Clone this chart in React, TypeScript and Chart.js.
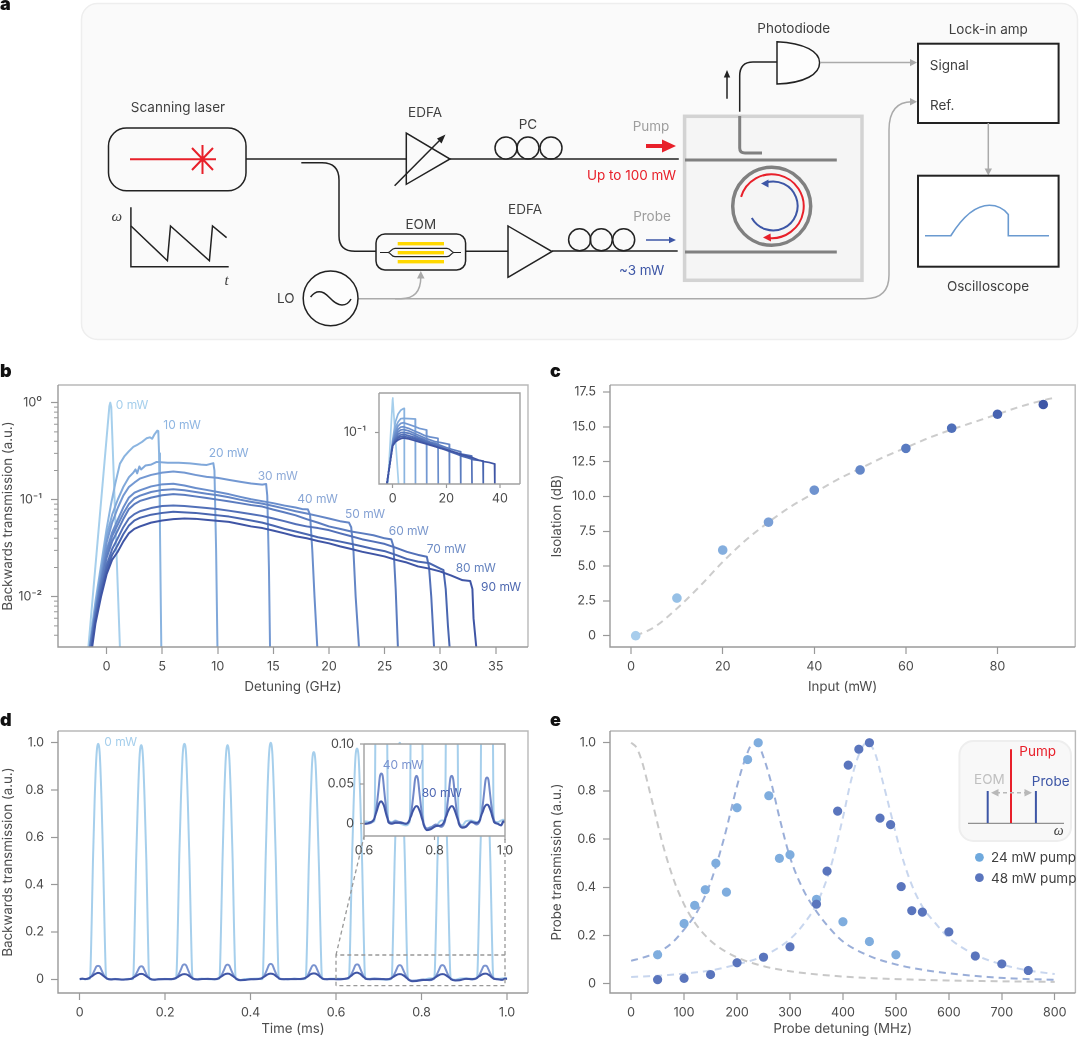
import React, { useEffect, useRef } from "react";
import { Chart, registerables } from "chart.js";

Chart.register(...registerables);

const FONT = "Inter, 'Noto Sans', sans-serif";
const TEXT = "#4a4a4a";

// ---- panel b ----
const bColors = ["#a6cfec", "#8ab4e0", "#80a8da", "#7398d2", "#6a8ecc", "#6486c6", "#5b7cbf", "#5270b8", "#4966b0", "#3f55a5"];
const bLabels = ["0 mW", "10 mW", "20 mW", "30 mW", "40 mW", "50 mW", "60 mW", "70 mW", "80 mW", "90 mW"];
const b0 = [[-1.64, 0.003], [0.25, 0.92], [0.33, 1], [0.42, 0.9], [1.2, 0.003]];
const b10 = [[-1.55, 0.003], [-1, 0.009], [-0.5, 0.021], [0, 0.05], [0.4, 0.09], [0.8, 0.15], [1.2, 0.235], [1.6, 0.28], [2, 0.315], [2.4, 0.35], [2.8, 0.37], [3.2, 0.395], [3.6, 0.43], [3.9, 0.44], [4.1, 0.425], [4.3, 0.47], [4.56, 0.515], [4.65, 0.51], [4.72, 0.3], [4.8, 0.05], [4.92, 0.003]];
const b20 = [[-1.5, 0.003], [-1, 0.008], [-0.5, 0.019], [0, 0.042], [0.5, 0.07], [1, 0.1], [1.5, 0.135], [2, 0.17], [2.4, 0.19], [2.6, 0.205], [2.75, 0.187], [2.95, 0.22], [3.1, 0.205], [3.5, 0.225], [4, 0.23], [4.5, 0.245], [5.5, 0.24], [6.5, 0.24], [7.5, 0.237], [8.5, 0.23], [9, 0.228], [9.6, 0.238], [9.7, 0.2], [9.85, 0.03], [9.97, 0.003]];
const b30 = [[-1.5, 0.003], [-1, 0.0075], [-0.5, 0.017], [0, 0.036], [0.5, 0.058], [1, 0.082], [1.5, 0.11], [2, 0.135], [2.5, 0.15], [3, 0.165], [4, 0.18], [5, 0.19], [6, 0.195], [7, 0.19], [8, 0.18], [9, 0.172], [10, 0.168], [11, 0.16], [12, 0.153], [13, 0.147], [14, 0.143], [14.35, 0.145], [14.45, 0.11], [14.6, 0.02], [14.7, 0.003]];
const b40 = [[-1.5, 0.003], [-1, 0.0072], [-0.5, 0.015], [0, 0.03], [0.5, 0.046], [1, 0.062], [1.5, 0.083], [2, 0.105], [2.5, 0.118], [3, 0.125], [4, 0.137], [5, 0.144], [6, 0.146], [7, 0.14], [8, 0.132], [9, 0.126], [10, 0.12], [11, 0.114], [12, 0.107], [13, 0.101], [14, 0.0965], [15, 0.092], [16, 0.087], [17, 0.083], [17.6, 0.08], [18.1, 0.0795], [18.3, 0.07], [18.5, 0.03], [18.7, 0.01], [18.95, 0.003]];
const b50 = [[-1.5, 0.003], [-1, 0.007], [-0.5, 0.0145], [0, 0.028], [0.5, 0.042], [1, 0.055], [1.5, 0.072], [2, 0.09], [2.5, 0.103], [3, 0.11], [4, 0.12], [5, 0.126], [6, 0.128], [7, 0.125], [8, 0.12], [9, 0.115], [10, 0.111], [11, 0.106], [12, 0.1], [13, 0.095], [14, 0.091], [15, 0.086], [16, 0.081], [17, 0.076], [18, 0.072], [19, 0.068], [20, 0.064], [21, 0.06], [21.8, 0.058], [22, 0.052], [22.2, 0.03], [22.4, 0.01], [22.7, 0.003]];
const b60 = [[-1.45, 0.003], [-1, 0.0068], [-0.5, 0.0135], [0, 0.025], [0.5, 0.037], [1, 0.048], [1.5, 0.063], [2, 0.08], [2.5, 0.09], [3, 0.097], [4, 0.105], [5, 0.111], [6, 0.114], [7, 0.112], [8, 0.108], [9, 0.104], [10, 0.1], [11, 0.096], [12, 0.092], [13, 0.088], [14, 0.085], [15, 0.079], [16, 0.074], [17, 0.069], [18, 0.063], [19, 0.058], [20, 0.053], [21, 0.05], [22, 0.047], [23, 0.045], [24, 0.043], [25, 0.04], [25.6, 0.039], [25.8, 0.033], [26, 0.012], [26.2, 0.003]];
const b70 = [[-1.4, 0.003], [-1, 0.0062], [-0.5, 0.012], [0, 0.021], [0.5, 0.031], [1, 0.04], [1.5, 0.052], [2, 0.064], [2.5, 0.071], [3, 0.076], [4, 0.082], [5, 0.086], [6, 0.087], [7, 0.086], [8, 0.084], [9, 0.082], [10, 0.08], [11, 0.077], [12, 0.074], [13, 0.071], [14, 0.068], [15, 0.064], [16, 0.06], [17, 0.056], [18, 0.053], [19, 0.051], [20, 0.0485], [21, 0.045], [22, 0.042], [23, 0.039], [24, 0.037], [25, 0.035], [26, 0.032], [27, 0.029], [28, 0.027], [28.8, 0.0258], [29, 0.02], [29.2, 0.01], [29.45, 0.003]];
const b80 = [[-1.35, 0.003], [-1, 0.0058], [-0.5, 0.011], [0, 0.019], [0.5, 0.027], [1, 0.034], [1.5, 0.044], [2, 0.054], [2.5, 0.061], [3, 0.065], [4, 0.07], [5, 0.073], [6, 0.075], [7, 0.074], [8, 0.073], [9, 0.071], [10, 0.069], [11, 0.067], [12, 0.064], [13, 0.061], [14, 0.058], [15, 0.054], [16, 0.05], [17, 0.047], [18, 0.044], [19, 0.041], [20, 0.039], [21, 0.037], [22, 0.035], [23, 0.033], [24, 0.031], [25, 0.0295], [26, 0.027], [27, 0.0245], [28, 0.023], [29, 0.0222], [30, 0.0195], [30.3, 0.0188], [30.5, 0.012], [30.7, 0.005], [30.85, 0.003]];
const b90 = [[-1.3, 0.003], [-1, 0.0053], [-0.5, 0.01], [0, 0.017], [0.5, 0.024], [1, 0.029], [1.5, 0.037], [2, 0.045], [2.5, 0.05], [3, 0.053], [4, 0.058], [5, 0.061], [6, 0.063], [7, 0.064], [8, 0.0635], [9, 0.062], [10, 0.0605], [11, 0.059], [12, 0.056], [13, 0.053], [14, 0.051], [15, 0.048], [16, 0.045], [17, 0.042], [18, 0.04], [19, 0.0375], [20, 0.0355], [21, 0.033], [22, 0.031], [23, 0.029], [24, 0.0275], [25, 0.026], [26, 0.024], [27, 0.0225], [28, 0.0205], [29, 0.0195], [30, 0.0182], [31, 0.0165], [32, 0.0148], [32.7, 0.0145], [32.9, 0.012], [33, 0.006], [33.25, 0.003]];
const bCurves = [b0, b10, b20, b30, b40, b50, b60, b70, b80, b90];
const bXTicks = [0, 5, 10, 15, 20, 25, 30, 35];
const bXLabels = ["0", "5", "10", "15", "20", "25", "30", "35"];
const bYTicks = [1, 0.1, 0.01];
const bYLabels = ["10⁰", "10⁻¹", "10⁻²"];
const bYMinor = [0.004, 0.005, 0.006, 0.007, 0.008, 0.009, 0.02, 0.03, 0.04, 0.05, 0.06, 0.07, 0.08, 0.09, 0.2, 0.3, 0.4, 0.5, 0.6, 0.7, 0.8, 0.9];

// ---- panel b inset ----
const i0 = [[-1.8, 0.003], [-0.05, 0.9], [0, 1], [0.08, 0.9], [2.2, 0.003]];
const i1 = [[-2.2, 0.003], [-1, 0.013], [0, 0.06], [1, 0.2], [2, 0.34], [3, 0.44], [4, 0.49], [4.3, 0.5], [4.35, 0.003]];
const i2 = [[-2.2, 0.003], [-1, 0.013], [0, 0.055], [1, 0.135], [2, 0.2], [3, 0.25], [4, 0.255], [6, 0.25], [8.4, 0.244], [8.5, 0.003]];
const i3 = [[-2.2, 0.003], [-1, 0.013], [0, 0.052], [1, 0.105], [2, 0.153], [3, 0.182], [4, 0.19], [6, 0.17], [8, 0.15], [10, 0.13], [12.6, 0.117], [12.7, 0.003]];
const i4 = [[-2.2, 0.003], [-1, 0.013], [0, 0.05], [1, 0.09], [2, 0.122], [3, 0.142], [4, 0.145], [6, 0.13], [8, 0.11], [10, 0.095], [12, 0.08], [14, 0.073], [16.9, 0.0668], [17, 0.003]];
const i5 = [[-2.2, 0.003], [-1, 0.013], [0, 0.047], [1, 0.078], [2, 0.103], [3, 0.117], [4, 0.12], [6, 0.11], [8, 0.094], [10, 0.08], [12, 0.068], [14, 0.06], [16, 0.053], [18, 0.05], [21.1, 0.0447], [21.2, 0.003]];
const i6 = [[-2.2, 0.003], [-1, 0.013], [0, 0.045], [1, 0.068], [2, 0.088], [3, 0.098], [4, 0.1], [6, 0.094], [8, 0.082], [10, 0.07], [12, 0.06], [14, 0.052], [16, 0.047], [18, 0.041], [20, 0.036], [22, 0.032], [25.3, 0.0272], [25.4, 0.003]];
const i7 = [[-2.2, 0.003], [-1, 0.013], [0, 0.044], [1, 0.062], [2, 0.075], [3, 0.084], [4, 0.087], [6, 0.08], [8, 0.072], [10, 0.063], [12, 0.055], [14, 0.048], [16, 0.042], [18, 0.037], [20, 0.032], [22, 0.028], [24, 0.025], [26, 0.023], [29.5, 0.0204], [29.6, 0.003]];
const i8 = [[-2.2, 0.003], [-1, 0.013], [0, 0.042], [1, 0.056], [2, 0.068], [3, 0.074], [4, 0.076], [6, 0.071], [8, 0.065], [10, 0.057], [12, 0.05], [14, 0.044], [16, 0.038], [18, 0.034], [20, 0.03], [22, 0.026], [24, 0.023], [26, 0.02], [28, 0.018], [30, 0.016], [33.7, 0.0146], [33.8, 0.003]];
const i9 = [[-2.2, 0.003], [-1, 0.013], [0, 0.04], [1, 0.052], [2, 0.06], [3, 0.065], [4, 0.068], [6, 0.064], [8, 0.058], [10, 0.052], [12, 0.047], [14, 0.042], [16, 0.038], [18, 0.034], [20, 0.031], [22, 0.028], [24, 0.025], [26, 0.022], [28, 0.02], [30, 0.018], [32, 0.0155], [34, 0.014], [36, 0.0132], [38, 0.012], [38.1, 0.003]];
const iCurves = [i0, i1, i2, i3, i4, i5, i6, i7, i8, i9];
const iXTicks = [0, 20, 40];
const iXLabels = ["0", "20", "40"];
const iYTicks = [0.1];
const iYLabels = ["10⁻¹"];

// ---- panel c ----
const cInput = [1, 10, 20, 30, 40, 50, 60, 70, 80, 90];
const cIsolation = [0, 2.7, 6.15, 8.15, 10.45, 11.9, 13.45, 14.9, 15.9, 16.6];
const cColors = ["#a8cdec", "#96c0e6", "#84aede", "#7a9fd6", "#6f93cf", "#6487c8", "#597bc1", "#4f6fb9", "#4763b1", "#3e56a6"];
const cFitX = [1, 5, 10, 15, 20, 25, 30, 35, 40, 45, 50, 55, 60, 65, 70, 75, 80, 85, 90, 92.6];
const cFitY = [0, 0.6, 1.95, 3.55, 5.3, 6.85, 8.15, 9.3, 10.25, 11.2, 12, 12.8, 13.5, 14.2, 14.8, 15.35, 15.9, 16.45, 16.9, 17.1];
const cXTicks = [0, 20, 40, 60, 80];
const cXLabels = ["0", "20", "40", "60", "80"];
const cYTicks = [0, 2.5, 5, 7.5, 10, 12.5, 15, 17.5];
const cYLabels = ["0", "2.5", "5.0", "7.5", "10.0", "12.5", "15.0", "17.5"];

// ---- panel d ----
const dTime = [0, 0.006,
  0.013, 0.023, 0.025, 0.028, 0.031, 0.035, 0.039, 0.043, 0.047, 0.051, 0.055, 0.058, 0.061, 0.063, 0.073, 0.083, 0.098,
  0.114, 0.124, 0.126, 0.129, 0.132, 0.136, 0.14, 0.144, 0.148, 0.152, 0.156, 0.159, 0.162, 0.164, 0.174, 0.184, 0.199,
  0.215, 0.225, 0.227, 0.23, 0.233, 0.237, 0.241, 0.245, 0.249, 0.253, 0.257, 0.26, 0.263, 0.265, 0.275, 0.285, 0.3,
  0.316, 0.326, 0.328, 0.331, 0.334, 0.338, 0.342, 0.346, 0.35, 0.354, 0.358, 0.361, 0.364, 0.366, 0.376, 0.386, 0.401,
  0.417, 0.427, 0.429, 0.432, 0.435, 0.439, 0.443, 0.447, 0.451, 0.455, 0.459, 0.462, 0.465, 0.467, 0.477, 0.487, 0.502,
  0.518, 0.528, 0.53, 0.533, 0.536, 0.54, 0.544, 0.548, 0.552, 0.556, 0.56, 0.563, 0.566, 0.568, 0.578, 0.588, 0.603,
  0.619, 0.629, 0.631, 0.634, 0.637, 0.641, 0.645, 0.649, 0.653, 0.657, 0.661, 0.664, 0.667, 0.669, 0.679, 0.689, 0.704,
  0.719, 0.729, 0.731, 0.734, 0.737, 0.741, 0.745, 0.749, 0.753, 0.757, 0.761, 0.764, 0.767, 0.769, 0.779, 0.789, 0.804,
  0.819, 0.829, 0.831, 0.834, 0.837, 0.841, 0.845, 0.849, 0.853, 0.857, 0.861, 0.864, 0.867, 0.869, 0.879, 0.889, 0.904,
  0.919, 0.929, 0.931, 0.934, 0.937, 0.941, 0.945, 0.949, 0.953, 0.957, 0.961, 0.964, 0.967, 0.969, 0.979, 0.989, 0.995, 1.0];
const d0mW = [0.001, 0.002,
  0.001, 0.002, 0.03, 0.24, 0.5, 0.76, 0.94, 0.995, 0.95, 0.76, 0.49, 0.23, 0.03, 0.002, 0.001, 0.002, -0.001,
  0.002, 0.001, 0.03, 0.25, 0.5, 0.75, 0.94, 0.99, 0.94, 0.75, 0.5, 0.24, 0.02, 0.001, -0.002, 0, 0.002,
  0.001, 0.003, 0.04, 0.25, 0.52, 0.77, 0.95, 0.995, 0.95, 0.75, 0.49, 0.24, 0.03, 0.002, 0.001, 0.003, 0.001,
  0, 0.002, 0.03, 0.24, 0.49, 0.76, 0.94, 0.99, 0.94, 0.76, 0.5, 0.23, 0.03, 0.001, -0.003, 0.001, 0.002,
  0.003, 0.001, 0.03, 0.25, 0.5, 0.77, 0.95, 1.0, 0.95, 0.76, 0.5, 0.24, 0.03, 0.002, 0.001, 0, 0.003,
  0.001, 0.002, 0.03, 0.23, 0.48, 0.73, 0.92, 0.96, 0.91, 0.72, 0.47, 0.23, 0.03, 0.002, 0.001, 0.002, 0.003,
  0.002, 0.003, 0.03, 0.24, 0.49, 0.74, 0.93, 0.975, 0.93, 0.74, 0.49, 0.24, 0.03, 0.004, 0.002, 0.004, 0,
  -0.002, 0.002, 0.03, 0.25, 0.5, 0.76, 0.95, 1.0, 0.95, 0.76, 0.5, 0.24, 0.03, 0, -0.006, -0.004, -0.003,
  0.004, 0.004, 0.035, 0.24, 0.49, 0.75, 0.93, 0.98, 0.93, 0.75, 0.49, 0.24, 0.03, 0.002, -0.002, 0.003, 0.004,
  0.002, 0.005, 0.035, 0.25, 0.5, 0.75, 0.94, 0.99, 0.94, 0.75, 0.5, 0.24, 0.03, 0.003, 0.002, 0.004, 0.005, 0.004];
const d40mW = [0, 0.002,
  0.001, 0.005, 0.008, 0.014, 0.024, 0.039, 0.054, 0.057, 0.054, 0.039, 0.023, 0.013, 0.007, 0.004, 0, 0.001, -0.002,
  0.001, 0.004, 0.008, 0.013, 0.023, 0.037, 0.051, 0.055, 0.052, 0.037, 0.022, 0.012, 0.007, 0.003, -0.001, 0, 0.001,
  0, 0.005, 0.009, 0.015, 0.026, 0.042, 0.059, 0.063, 0.059, 0.042, 0.025, 0.014, 0.008, 0.003, 0, 0.001, 0.002,
  0.001, 0.005, 0.008, 0.015, 0.025, 0.041, 0.058, 0.062, 0.058, 0.041, 0.025, 0.014, 0.007, 0.004, -0.003, -0.002, 0.001,
  0.001, 0.006, 0.009, 0.016, 0.027, 0.044, 0.061, 0.065, 0.061, 0.043, 0.026, 0.015, 0.008, 0.004, 0.001, 0, 0.002,
  0.001, 0.005, 0.008, 0.014, 0.025, 0.041, 0.056, 0.06, 0.056, 0.04, 0.024, 0.014, 0.007, 0.004, 0.001, 0.002, 0,
  0.001, 0.006, 0.009, 0.016, 0.026, 0.042, 0.059, 0.063, 0.06, 0.043, 0.026, 0.014, 0.008, 0.004, 0.001, 0.003, 0.002,
  0, 0.005, 0.008, 0.014, 0.024, 0.04, 0.056, 0.06, 0.056, 0.04, 0.024, 0.013, 0.006, 0.001, -0.006, -0.005, -0.001,
  -0.004, 0.002, 0.006, 0.014, 0.025, 0.041, 0.057, 0.06, 0.056, 0.04, 0.023, 0.012, 0.006, 0.002, -0.004, -0.003, 0.003,
  -0.001, 0.004, 0.008, 0.014, 0.024, 0.04, 0.055, 0.058, 0.055, 0.04, 0.024, 0.014, 0.008, 0.004, 0, -0.002, 0.002, 0.003];
const d80mW = [0.001, 0.003,
  0.001, 0.006, 0.009, 0.012, 0.016, 0.021, 0.025, 0.027, 0.026, 0.021, 0.015, 0.011, 0.007, 0.004, -0.001, 0.001, -0.001,
  0, 0.005, 0.008, 0.011, 0.014, 0.018, 0.022, 0.023, 0.022, 0.018, 0.013, 0.009, 0.006, 0.003, -0.002, 0, 0.001,
  0.001, 0.005, 0.007, 0.01, 0.014, 0.018, 0.021, 0.022, 0.021, 0.018, 0.013, 0.009, 0.005, 0.003, -0.001, 0.001, 0.002,
  0, 0.005, 0.008, 0.011, 0.015, 0.02, 0.023, 0.024, 0.023, 0.019, 0.014, 0.01, 0.006, 0.002, -0.004, -0.003, 0,
  0.001, 0.005, 0.008, 0.011, 0.015, 0.02, 0.023, 0.024, 0.023, 0.02, 0.014, 0.01, 0.006, 0.003, 0, 0.001, 0.001,
  0.002, 0.006, 0.008, 0.011, 0.015, 0.021, 0.024, 0.025, 0.024, 0.02, 0.015, 0.01, 0.006, 0.003, 0, 0.001, 0,
  0.002, 0.006, 0.009, 0.013, 0.017, 0.023, 0.027, 0.028, 0.026, 0.022, 0.015, 0.01, 0.006, 0.002, 0, 0.001, 0.001,
  0, 0.004, 0.007, 0.01, 0.014, 0.018, 0.021, 0.022, 0.021, 0.017, 0.012, 0.007, 0.003, -0.001, -0.008, -0.007, -0.003,
  -0.002, 0.004, 0.007, 0.01, 0.014, 0.018, 0.021, 0.022, 0.021, 0.017, 0.012, 0.008, 0.004, 0, -0.005, -0.004, 0.002,
  0.001, 0.005, 0.008, 0.012, 0.015, 0.02, 0.023, 0.024, 0.023, 0.019, 0.014, 0.009, 0.005, 0.002, 0, -0.002, 0.003, 0.002];
const dXTicks = [0, 0.2, 0.4, 0.6, 0.8, 1.0];
const dXLabels = ["0", "0.2", "0.4", "0.6", "0.8", "1.0"];
const dYTicks = [0, 0.2, 0.4, 0.6, 0.8, 1.0];
const dYLabels = ["0", "0.2", "0.4", "0.6", "0.8", "1.0"];
const dInsetXTicks = [0.6, 0.8, 1.0];
const dInsetXLabels = ["0.6", "0.8", "1.0"];
const dInsetYTicks = [0, 0.05, 0.1];
const dInsetYLabels = ["0", "0.05", "0.10"];

// ---- panel e ----
const e24X = [50, 100, 120, 140, 160, 180, 200, 220, 240, 260, 280, 300, 350, 400, 450, 500];
const e24Y = [0.12, 0.25, 0.325, 0.39, 0.5, 0.38, 0.73, 0.93, 1.0, 0.78, 0.52, 0.535, 0.35, 0.257, 0.175, 0.12];
const e48X = [50, 100, 150, 200, 250, 300, 350, 370, 390, 410, 430, 450, 470, 490, 510, 530, 550, 600, 650, 700, 750];
const e48Y = [0.017, 0.022, 0.038, 0.087, 0.11, 0.153, 0.33, 0.467, 0.716, 0.907, 0.973, 1.0, 0.687, 0.66, 0.403, 0.303, 0.297, 0.215, 0.115, 0.082, 0.055];
const eGrayX = [0, 10, 20, 40, 60, 80, 100, 120, 140, 160, 200, 250, 300, 400, 500, 600, 700, 800];
const eGrayY = [1, 0.98, 0.925, 0.754, 0.576, 0.434, 0.329, 0.254, 0.2, 0.16, 0.109, 0.0727, 0.0516, 0.0297, 0.0192, 0.0134, 0.0099, 0.0076];
const eMidX = [0, 25, 50, 75, 100, 125, 150, 175, 200, 215, 230, 240, 250, 265, 280, 300, 325, 350, 375, 400, 450, 500, 550, 600, 700, 800];
const eMidY = [0.095, 0.11, 0.13, 0.165, 0.225, 0.3, 0.42, 0.6, 0.82, 0.93, 0.995, 0.99, 0.94, 0.83, 0.69, 0.525, 0.39, 0.3, 0.23, 0.175, 0.115, 0.08, 0.058, 0.043, 0.024, 0.016];
const eLightX = [0, 50, 100, 150, 200, 250, 300, 325, 350, 375, 400, 415, 430, 445, 460, 475, 490, 510, 530, 550, 575, 600, 650, 700, 750, 800];
const eLightY = [0.028, 0.033, 0.042, 0.055, 0.08, 0.115, 0.185, 0.245, 0.33, 0.47, 0.69, 0.84, 0.95, 1.0, 0.96, 0.84, 0.71, 0.54, 0.41, 0.32, 0.25, 0.19, 0.12, 0.08, 0.055, 0.04];
const eXTicks = [0, 100, 200, 300, 400, 500, 600, 700, 800];
const eXLabels = ["0", "100", "200", "300", "400", "500", "600", "700", "800"];
const eYTicks = [0, 0.2, 0.4, 0.6, 0.8, 1.0];
const eYLabels = ["0", "0.2", "0.4", "0.6", "0.8", "1.0"];

const zip = (xs: number[], ys: number[]) => xs.map((x, i) => ({ x, y: ys[i] }));
const fromPairs = (p: number[][]) => p.map(([x, y]) => ({ x, y }));
const line = (data: any[], color: string, width = 2, extra: any = {}) => ({
  type: "scatter", showLine: true, data, borderColor: color, backgroundColor: color, borderWidth: width,
  pointRadius: 0, borderJoinStyle: "round", ...extra,
});
const dots = (data: any[], color: any, r = 4.6) => ({
  type: "scatter", showLine: false, data, backgroundColor: color, borderWidth: 0, pointRadius: r,
});

const specs: any[] = [
  {
    key: "b", plot: { l: 58, t: 385, r: 528, b: 647 }, L: 58, B: 48, z: 1, tick: 7, xPad: 5, yPad: 9,
    x: { min: -4.37, max: 37.9, ticks: bXTicks, labels: bXLabels, title: "Detuning (GHz)" },
    y: { type: "logarithmic", min: 0.003028, max: 1.522, ticks: bYTicks, labels: bYLabels, title: "Backwards transmission (a.u.)", minor: bYMinor },
    datasets: bCurves.map((c, i) => line(fromPairs(c), bColors[i])).reverse(),
  },
  {
    key: "bi", plot: { l: 379, t: 393, r: 520, b: 484 }, L: 40, B: 24, z: 2, tick: 4, xPad: 3, yPad: 9, inset: true,
    x: { min: -5.11, max: 47.5, ticks: iXTicks, labels: iXLabels },
    y: { type: "logarithmic", min: 0.00311, max: 1.4, ticks: iYTicks, labels: iYLabels },
    datasets: iCurves.map((c, i) => line(fromPairs(c), bColors[i], 1.7)).reverse(),
  },
  {
    key: "c", plot: { l: 610, t: 385, r: 1079, b: 647 }, L: 61, B: 48, z: 1, tick: 7, xPad: 5, yPad: 7,
    x: { min: -4.61, max: 96.97, ticks: cXTicks, labels: cXLabels, title: "Input (mW)" },
    y: { min: -0.81, max: 18.0, ticks: cYTicks, labels: cYLabels, title: "Isolation (dB)" },
    datasets: [
      dots(zip(cInput, cIsolation), cColors, 4.8),
      line(zip(cFitX, cFitY), "#cccccc", 2, { borderDash: [7, 5], cubicInterpolationMode: "monotone" }),
    ],
  },
  {
    key: "d", plot: { l: 58, t: 731, r: 528, b: 993 }, L: 58, B: 44, z: 1, tick: 7, xPad: 5, yPad: 7,
    x: { min: -0.0508, max: 1.0491, ticks: dXTicks, labels: dXLabels, title: "Time (ms)" },
    y: { min: -0.0579, max: 1.0495, ticks: dYTicks, labels: dYLabels, title: "Backwards transmission (a.u.)" },
    datasets: [
      line(zip(dTime, d80mW), "#3f55a5", 2, { cubicInterpolationMode: "monotone" }),
      line(zip(dTime, d40mW), "#7a93cf", 2, { cubicInterpolationMode: "monotone" }),
      line(zip(dTime, d0mW), "#a6cfec", 2, { cubicInterpolationMode: "monotone" }),
    ],
  },
  {
    key: "di", plot: { l: 364, t: 744, r: 505, b: 836 }, L: 40, B: 22, R: 14, z: 2, tick: 4, xPad: 3, yPad: 6, inset: true,
    x: { min: 0.6, max: 1.0, ticks: dInsetXTicks, labels: dInsetXLabels },
    y: { min: -0.0154, max: 0.1, ticks: dInsetYTicks, labels: dInsetYLabels },
    datasets: [
      line(zip(dTime, d80mW), "#3f55a5", 2, { cubicInterpolationMode: "monotone" }),
      line(zip(dTime, d40mW), "#7088c8", 2, { cubicInterpolationMode: "monotone" }),
      line(zip(dTime, d0mW), "#a6cfec", 2, { cubicInterpolationMode: "monotone" }),
    ],
  },
  {
    key: "e", plot: { l: 610, t: 731, r: 1079, b: 993 }, L: 61, B: 44, z: 1, tick: 7, xPad: 5, yPad: 7,
    x: { min: -39.9, max: 839, ticks: eXTicks, labels: eXLabels, title: "Probe detuning (MHz)" },
    y: { min: -0.0386, max: 1.0485, ticks: eYTicks, labels: eYLabels, title: "Probe transmission (a.u.)" },
    datasets: [
      dots(zip(e48X, e48Y), "#5a75bd"),
      dots(zip(e24X, e24Y), "#7fadde"),
      line(zip(eLightX, eLightY), "#c8d6ee", 2, { borderDash: [7, 5], cubicInterpolationMode: "monotone" }),
      line(zip(eMidX, eMidY), "#9aaed8", 2, { borderDash: [7, 5], cubicInterpolationMode: "monotone" }),
      line(zip(eGrayX, eGrayY), "#c8c8c8", 2, { borderDash: [7, 5], cubicInterpolationMode: "monotone" }),
    ],
  },
];

const framePlugin = {
  id: "frame",
  beforeDatasetsDraw(chart: any) {
    const spec = chart.options.plugins.frame.spec;
    if (!spec.inset) return;
    const { left, top, right, bottom } = chart.chartArea;
    chart.ctx.save();
    chart.ctx.fillStyle = "#ffffff";
    chart.ctx.fillRect(left, top, right - left, bottom - top);
    chart.ctx.restore();
  },
  afterDraw(chart: any) {
    const spec = chart.options.plugins.frame.spec;
    const { left, top, right, bottom } = chart.chartArea;
    const ctx = chart.ctx;
    ctx.save();
    ctx.lineWidth = 1.4;
    ctx.strokeStyle = spec.inset ? "#a0a0a0" : "#b8b8b8";
    ctx.beginPath();
    ctx.moveTo(left, top);
    ctx.lineTo(right, top);
    ctx.lineTo(right, bottom);
    ctx.stroke();
    ctx.strokeStyle = spec.inset ? "#a0a0a0" : "#999999";
    ctx.beginPath();
    ctx.moveTo(left, top);
    ctx.lineTo(left, bottom);
    ctx.lineTo(right, bottom);
    ctx.stroke();
    if (spec.y.minor) {
      ctx.strokeStyle = "#999999";
      ctx.lineWidth = 1;
      ctx.beginPath();
      for (const v of spec.y.minor) {
        const p = chart.scales.y.getPixelForValue(v);
        ctx.moveTo(left, p);
        ctx.lineTo(left - 4, p);
      }
      ctx.stroke();
    }
    ctx.restore();
  },
};

function axis(spec: any, a: any, isY: boolean) {
  return {
    type: a.type || "linear",
    position: isY ? "left" : "bottom",
    min: a.min,
    max: a.max,
    afterBuildTicks(scale: any) {
      scale.ticks = a.ticks.map((value: number) => ({ value, major: true }));
    },
    afterFit(scale: any) {
      if (isY) scale.width = spec.L;
      else scale.height = spec.B;
      scale.paddingTop = 0;
      scale.paddingBottom = 0;
      scale.paddingLeft = 0;
      scale.paddingRight = 0;
    },
    border: { display: false },
    grid: { display: true, drawOnChartArea: false, drawTicks: true, tickLength: spec.tick, tickColor: "#999999", tickWidth: 1.2 },
    ticks: {
      autoSkip: false, maxRotation: 0, minRotation: 0, color: TEXT,
      padding: isY ? spec.yPad : spec.xPad,
      font: { family: FONT, size: 12.5 },
      callback: (_v: any, i: number) => a.labels[i],
    },
    title: a.title
      ? { display: true, text: a.title, color: TEXT, font: { family: FONT, size: 13.3 }, padding: { top: 0, bottom: 0 } }
      : { display: false },
  };
}

function Plot({ spec }: { spec: any }) {
  const ref = useRef<HTMLCanvasElement>(null);
  const T = spec.T ?? 9;
  const R = spec.R ?? 1;
  const w = spec.plot.r - spec.plot.l + spec.L + R;
  const h = spec.plot.b - spec.plot.t + T + spec.B;
  useEffect(() => {
    const chart = new Chart(ref.current as any, {
      type: "scatter",
      data: { datasets: spec.datasets },
      plugins: [framePlugin],
      options: {
        animation: false,
        responsive: false,
        devicePixelRatio: 2,
        layout: { padding: { top: T, right: R, left: 0, bottom: 0 } },
        plugins: { legend: { display: false }, tooltip: { enabled: false }, frame: { spec } },
        scales: { x: axis(spec, spec.x, false), y: axis(spec, spec.y, true) },
      },
    } as any);
    return () => chart.destroy();
  }, []);
  return (
    <canvas
      ref={ref}
      width={w}
      height={h}
      style={{ position: "absolute", left: spec.plot.l - spec.L, top: spec.plot.t - T, width: w, height: h, zIndex: spec.z }}
    />
  );
}

function T({ x, y, c = "#3f3f3f", s = 13.5, a = "middle", w, i, f, children }: any) {
  return (
    <text x={x} y={y} fill={c} fontSize={s} textAnchor={a} dominantBaseline="central" fontWeight={w} fontStyle={i ? "italic" : undefined} fontFamily={f || FONT}>
      {children}
    </text>
  );
}

const K = "#222222";
const G = "#aaaaaa";
const W = "#808080";
const RED = "#e8202a";
const BLUE = "#3d56a6";

function Schematic() {
  const black = { fill: "none", stroke: K, strokeWidth: 1.5 };
  const gray = { fill: "none", stroke: G, strokeWidth: 1.5 };
  const wg = { fill: "none", stroke: W, strokeWidth: 3 };
  return (
    <g>
      <rect x={81.5} y={3.5} width={996} height={336} rx={16} fill="#fafafa" stroke="#eeeeee" strokeWidth={1.5} />
      {/* laser */}
      <T x={178} y={107}>Scanning laser</T>
      <rect x={108.5} y={128} width={137.5} height={62.7} rx={18} fill="#fdfdfd" {...black} />
      <path d="M130 159.3H216M202.5 145V174M192 148L213 170M213 148L192 170" stroke={RED} strokeWidth={2} fill="none" />
      {/* sawtooth */}
      <path d="M130.9 207.3V266.7H228.7" {...black} />
      <path d="M131 226L167.4 260.7L170.5 226L209.4 260.7L212.5 226L226.6 237.7" {...black} />
      <T x={116.7} y={216} i f="'Liberation Serif', serif" s={15}>ω</T>
      <T x={226.6} y={280} i f="'Liberation Serif', serif" s={15}>t</T>
      {/* pump path */}
      <path d="M246 159H406.3M450 159H678.8" {...black} />
      <path d="M406.3 133V184.3L450 159Z" fill="#fafafa" stroke={K} strokeWidth={1.5} />
      <path d="M394.6 185.7L441 139" {...black} />
      <path d="M445.5 134.5L437 138.5L441.5 143.5Z" fill={K} />
      <T x={425} y={111.7}>EDFA</T>
      <circle cx={506} cy={148} r={11} fill="#fafafa" stroke={K} strokeWidth={1.5} />
      <circle cx={528} cy={148} r={11} fill="none" stroke={K} strokeWidth={1.5} />
      <circle cx={551} cy={148} r={11} fill="none" stroke={K} strokeWidth={1.5} />
      <T x={528} y={124}>PC</T>
      {/* probe path */}
      <path d="M301.3 162.7H322Q339 162.7 339 180V236Q339 251.3 355 251.3H376M465.6 251.3H508M552 251H677.7" {...black} />
      <rect x={376} y={234} width={89.6} height={36} rx={9} fill="#fafafa" stroke={K} strokeWidth={1.5} />
      <rect x={397.7} y={242} width={46.3} height={3.4} fill="#ffd800" />
      <rect x={397.7} y={251} width={46.3} height={3.4} fill="#ffd800" />
      <rect x={397.7} y={260} width={46.3} height={3.4} fill="#ffd800" />
      <path d="M380 252.5H388C391 252.5 391 248.3 395 248.3H447C451 248.3 451 252.5 454 252.5H461" fill="none" stroke={K} strokeWidth={1.2} />
      <path d="M380 252.5H388C391 252.5 391 256.7 395 256.7H447C451 256.7 451 252.5 454 252.5H461" fill="none" stroke={K} strokeWidth={1.2} />
      <T x={420.8} y={223.7}>EOM</T>
      <path d="M508 226V277.3L552 251.5Z" fill="#fafafa" stroke={K} strokeWidth={1.5} />
      <T x={525} y={209}>EDFA</T>
      <circle cx={579.6} cy={239.7} r={11} fill="none" stroke={K} strokeWidth={1.5} />
      <circle cx={601.3} cy={239.7} r={11} fill="none" stroke={K} strokeWidth={1.5} />
      <circle cx={623.7} cy={239.7} r={11} fill="none" stroke={K} strokeWidth={1.5} />
      {/* LO */}
      <path d="M358 298.7H865Q889 298.7 889 275V130Q889 101.7 912 101.7" {...gray} />
      <path d="M917 101.7L910 98L910 105.4Z" fill={G} />
      <path d="M395 298.7H401Q420.8 298.7 420.8 277" {...gray} />
      <path d="M420.8 271L417 278.5H424.6Z" fill={G} />
      <circle cx={330.6} cy={298.3} r={27.4} fill="#fdfdfd" stroke={K} strokeWidth={1.5} />
      <path d="M310.6 297C315 291 320 291 324 293C330 296 333 305 342 305C346 305 349 303 351 299" {...black} />
      <T x={285.8} y={298.3}>LO</T>
      {/* labels */}
      <T x={651} y={126} c="#9e9e9e">Pump</T>
      <path d="M646 146H664" stroke={RED} strokeWidth={4} />
      <path d="M676 146L662 139.5V152.5Z" fill={RED} />
      <T x={676} y={175} c={RED} a="end">Up to 100 mW</T>
      <T x={652} y={215.7} c="#9e9e9e">Probe</T>
      <path d="M646 240H671" stroke={BLUE} strokeWidth={1.5} />
      <path d="M676 240L669 236.8V243.2Z" fill={BLUE} />
      <T x={641.6} y={270} c={BLUE}>~3 mW</T>
      {/* chip */}
      <rect x={684.6} y={116.3} width={177.4} height={164} fill="#f5f5f5" stroke="#d3d3d3" strokeWidth={3.5} />
      <path d="M685 160H836.8M685 252H836.8" {...wg} />
      <path d="M739.7 116V148Q739.7 153 745 153H762" {...wg} />
      <circle cx={771.7} cy={206.3} r={39} fill="none" stroke={W} strokeWidth={3.5} />
      <path d="M741.1 196.9A32 32 0 1 1 768 238" fill="none" stroke={RED} strokeWidth={2} />
      <path d="M763 237.5L770.5 233.5L771 241.5Z" fill={RED} />
      <path d="M751.8 218A24.5 24.5 0 1 0 766 182.5" fill="none" stroke={BLUE} strokeWidth={2} />
      <path d="M761 183.5L768.5 179.5L768.5 187.5Z" fill={BLUE} />
      {/* photodiode */}
      <path d="M739.7 111.7V76Q739.7 62 753 62H777" {...black} />
      <path d="M727 98.7V75" stroke={K} strokeWidth={1.5} />
      <path d="M727 70L723.8 77.5H730.2Z" fill={K} />
      <path d="M777 41.7C805 43 819.6 52 819.6 62.7C819.6 74 805 83 777 84Z" fill="#fdfdfd" stroke={K} strokeWidth={1.5} />
      <T x={793.8} y={28.3}>Photodiode</T>
      <path d="M820 62.6H912" {...gray} />
      <path d="M917 62.6L910 59V66.2Z" fill={G} />
      {/* lock-in */}
      <rect x={918} y={43.7} width={140.6} height={79.3} fill="#ffffff" stroke={K} strokeWidth={2} />
      <T x={988.3} y={28.7}>Lock-in amp</T>
      <T x={929.8} y={64.7} a="start">Signal</T>
      <T x={930} y={105.3} a="start">Ref.</T>
      <path d="M988.3 123V170" {...gray} />
      <path d="M988.3 175.5L984.6 168.5H992Z" fill={G} />
      <rect x={918} y={175.7} width={140.6} height={91} fill="#ffffff" stroke={K} strokeWidth={2} />
      <T x={988} y={286}>Oscilloscope</T>
      <path d="M925 235.7H950.8C962 218 975 205.3 989.4 205.3C998 205.3 1004 209 1008.3 214.5V235.7H1049" fill="none" stroke="#6a9ad0" strokeWidth={1.6} />
    </g>
  );
}

function Annotations() {
  const bTextPos = [[115.7, 404.3], [163.3, 424], [208.7, 452.3], [257.7, 475], [297.3, 498], [345, 513.3], [388.7, 530], [426.7, 548.3], [455.7, 567.7], [481, 586.7]];
  return (
    <g>
      <T x={0} y={3.7} c="#111" s={18} w={900} a="start">a</T>
      <T x={0} y={370.4} c="#111" s={18} w={900} a="start">b</T>
      <T x={550} y={370.4} c="#111" s={18} w={900} a="start">c</T>
      <T x={0} y={719.7} c="#111" s={18} w={900} a="start">d</T>
      <T x={550} y={719.7} c="#111" s={18} w={900} a="start">e</T>
      {bLabels.map((t, i) => (
        <T key={t} x={bTextPos[i][0]} y={bTextPos[i][1]} a="start" s={12} c={["#a6cfec", "#8fb6e2", "#8aaedd", "#90acd9", "#8aa7d6", "#86a2d4", "#7b98cd", "#6f8dc6", "#6583bf", "#4f69b0"][i]}>{t}</T>
      ))}
      <T x={104.3} y={741} a="start" s={12} c="#a6cfec">0 mW</T>
      <T x={382.7} y={764} a="start" s={12} c="#7a93cf">40 mW</T>
      <T x={421.7} y={792.7} a="start" s={12} c="#4d66b2">80 mW</T>
      <path d="M336 985.7V955H505V985.7H336M336 955L364 836.7M505 955V836.7" fill="none" stroke="#999999" strokeWidth={1.3} strokeDasharray="4 3" />
      {/* panel e inset */}
      <rect x={959.4} y={741} width={111.6} height={100} rx={14} fill="#f8f8f8" stroke="#eeeeee" strokeWidth={2} />
      <path d="M968 823.3H1064" stroke="#777777" strokeWidth={1} />
      <path d="M1011 749.3V823" stroke={RED} strokeWidth={2} />
      <path d="M987.7 791V823M1035.9 791V823" stroke={BLUE} strokeWidth={2} />
      <T x={1019.3} y={751} a="start" c={RED}>Pump</T>
      <T x={989.4} y={779} c="#c0c0c0">EOM</T>
      <T x={1050.7} y={781} c={BLUE}>Probe</T>
      <path d="M996 792.7H1027" stroke="#b8b8b8" strokeWidth={1.5} strokeDasharray="4 3" />
      <path d="M991 792.7L998.5 789V796.5Z" fill="#b8b8b8" />
      <path d="M1032 792.7L1024.5 789V796.5Z" fill="#b8b8b8" />
      <T x={1058.6} y={830} i f="'Liberation Serif', serif" s={14}>ω</T>
      <circle cx={979.4} cy={857.3} r={4.4} fill="#6fa9dd" />
      <circle cx={979.4} cy={877.7} r={4.4} fill="#5a75bd" />
      <T x={991} y={857.3} a="start">24 mW pump</T>
      <T x={991} y={877.7} a="start">48 mW pump</T>
    </g>
  );
}

export default function App() {
  return (
    <div style={{ position: "absolute", left: 0, top: 0, width: 1080, height: 1040, overflow: "hidden", background: "#ffffff" }}>
      {specs.map((s) => <Plot key={s.key} spec={s} />)}
      <svg width={1080} height={1040} style={{ position: "absolute", left: 0, top: 0, zIndex: 3, pointerEvents: "none" }}>
        <Schematic />
        <Annotations />
      </svg>
    </div>
  );
}
